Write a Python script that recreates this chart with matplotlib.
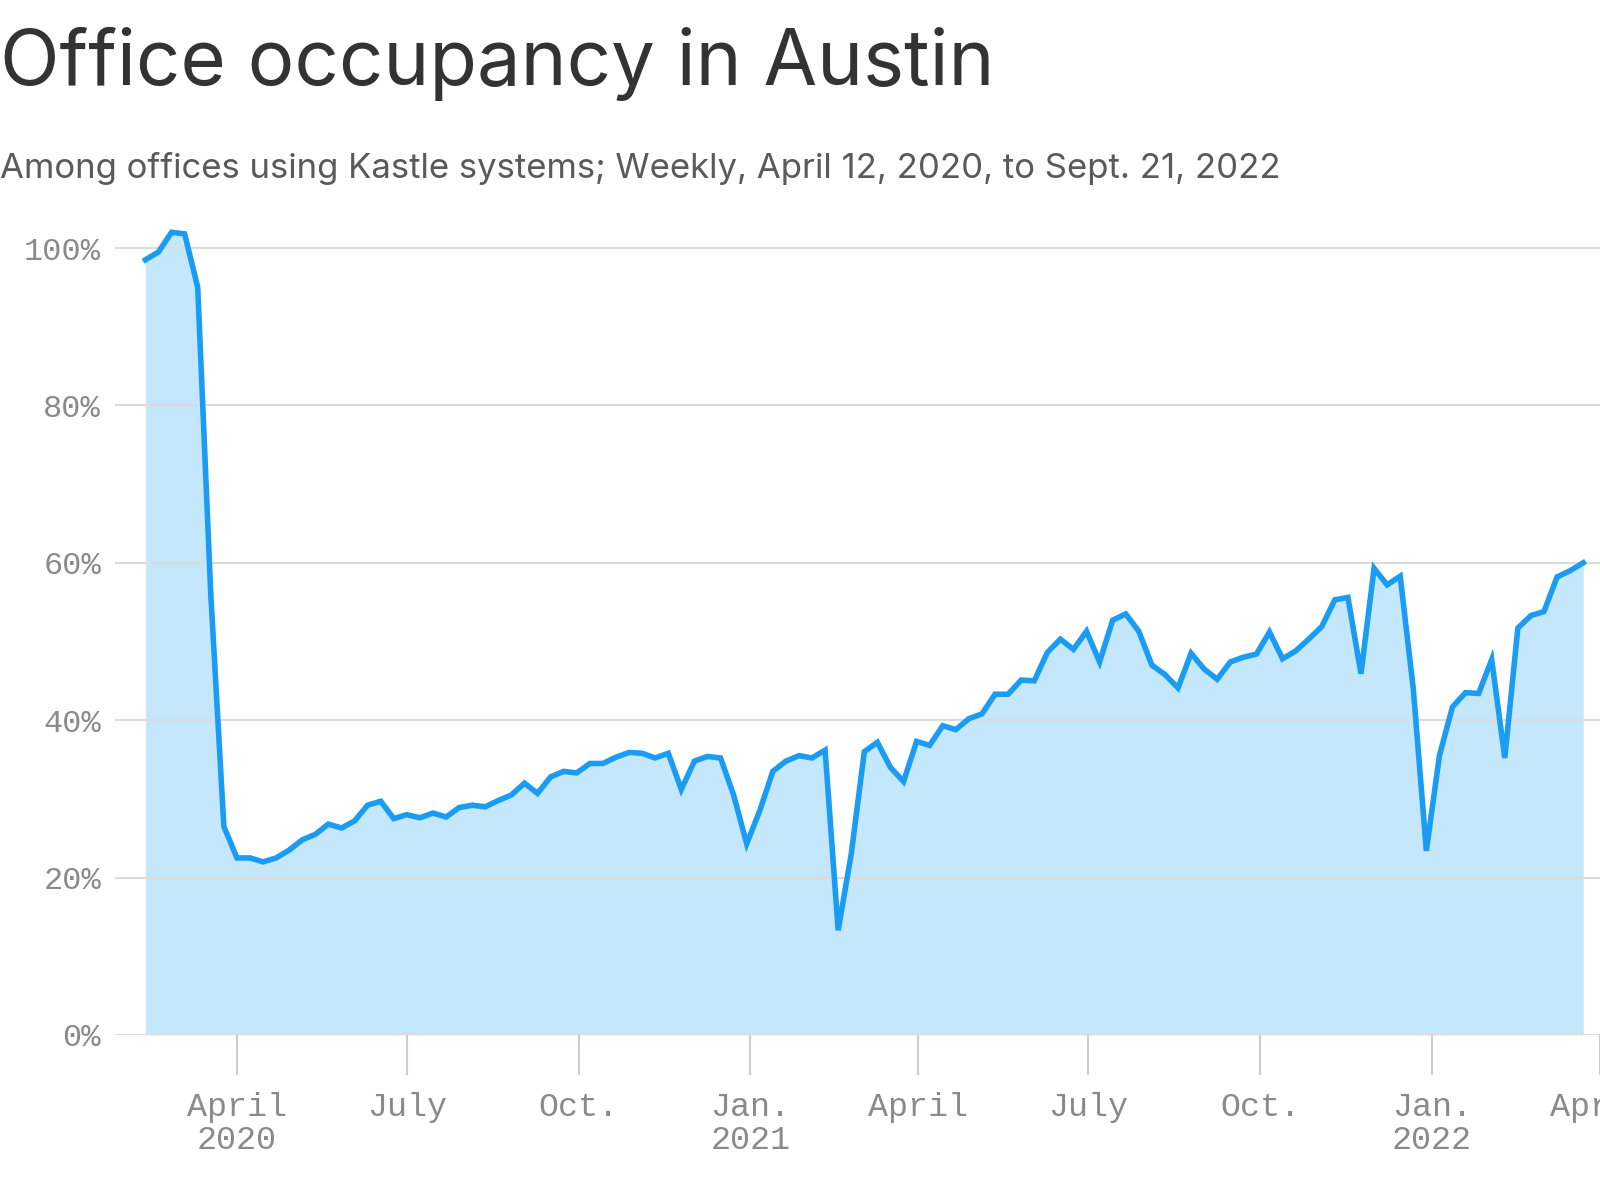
import matplotlib
matplotlib.use("Agg")
import matplotlib.pyplot as plt
import numpy as np
import pandas as pd

values = [98.5, 99.5, 102, 101.8, 95, 56, 26.5, 22.5, 22.5, 22, 22.5, 23.5, 24.8, 25.5, 26.8, 26.3,
          27.2, 29.2, 29.7, 27.5, 28, 27.6, 28.2, 27.7, 28.9, 29.2, 29, 29.8, 30.5, 32, 30.7, 32.8,
          33.5, 33.3, 34.5, 34.5, 35.3, 35.9, 35.8, 35.2, 35.8, 31.2, 34.8, 35.4, 35.2, 30.5, 24.3,
          28.5, 33.5, 34.8, 35.5, 35.2, 36.2, 13.3, 23, 36, 37.2, 34, 32.2, 37.3, 36.8, 39.3, 38.8,
          40.2, 40.8, 43.3, 43.3, 45.1, 45, 48.6, 50.3, 49, 51.3, 47.4, 52.7, 53.5, 51.3, 47, 45.8,
          44.1, 48.5, 46.5, 45.2, 47.4, 48, 48.4, 51.2, 47.8, 48.8, 50.3, 51.9, 55.3, 55.6,
          45.9, 59.3, 57.2, 58.3, 44, 23.4, 35.5, 41.7, 43.5, 43.4, 47.7, 35.2, 51.7, 53.3, 53.8,
          58.2, 59, 60]
dates = pd.date_range("2020-02-12", periods=len(values), freq="7D")
tick_dates = pd.to_datetime(["2020-04-01", "2020-07-01", "2020-10-01", "2021-01-01", "2021-04-01",
                             "2021-07-01", "2021-10-01", "2022-01-01", "2022-04-01"])
tick_labels = ["April\n2020", "July", "Oct.", "Jan.\n2021", "April", "July", "Oct.", "Jan.\n2022", "April"]
y_ticks = [0, 20, 40, 60, 80, 100]

fig = plt.figure(figsize=(16, 12), dpi=100)
ax = fig.add_axes([115/1600, 1 - 1035/1200, 1 - 115/1600, (1035 - 200)/1200])
base = pd.Timestamp("2020-04-01")
ax.set_xlim(base + pd.Timedelta(days=-65.3), base + pd.Timedelta(days=723))
ax.set_ylim(0, 106.1)

ax.fill_between(dates, values, 0, color="#c5e7fc", lw=0, zorder=1)
ax.plot(dates, values, color="#1a9cf5", lw=4, zorder=3, solid_joinstyle="miter")

for s in ax.spines.values():
    s.set_visible(False)
ax.set_yticks(y_ticks)
ax.set_yticklabels([f"{v}%" for v in y_ticks])
ax.grid(axis="y", color="#dcdcdc", lw=1.5, zorder=2)
ax.tick_params(axis="y", length=0, pad=10, labelsize=23, labelcolor="#8a8a8a")
ax.set_xticks(tick_dates)
ax.set_xticklabels(tick_labels, linespacing=1.1)
ax.tick_params(axis="x", length=29, width=1.5, color="#cccccc", pad=12, labelsize=24, labelcolor="#8a8a8a")
for lab in ax.get_xticklabels() + ax.get_yticklabels():
    lab.set_family("Liberation Mono")

fig.text(0.0, 1 - 85/1200, "Office occupancy in Austin", fontsize=56, color="#333333", family="Inter")
fig.text(0.0, 1 - 178/1200, "Among offices using Kastle systems; Weekly, April 12, 2020, to Sept. 21, 2022",
         fontsize=25, color="#5a5a5a", family="Inter")
fig.savefig("out.png", dpi=100)
